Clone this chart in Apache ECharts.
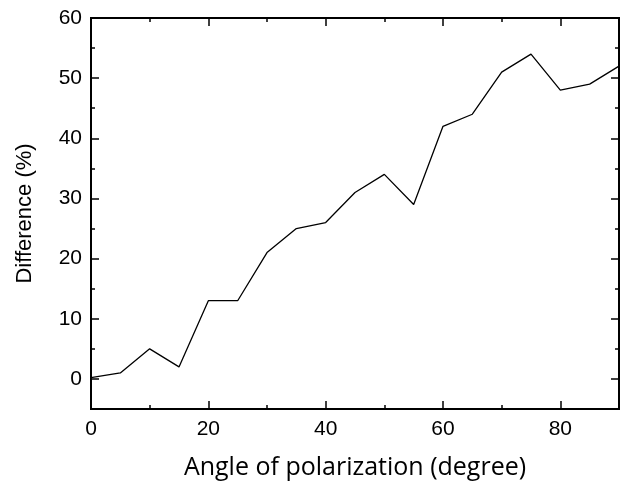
<!DOCTYPE html>
<html>
<head>
<meta charset="utf-8">
<script src="https://cdn.jsdelivr.net/npm/echarts@6/dist/echarts.min.js"></script>
<style>
  html, body { margin: 0; padding: 0; background: #fff; }
  #chart { width: 625px; height: 486px; }
</style>
</head>
<body>
<div id="chart"></div>
<script>
// angle of polarization (degree) vs difference (%)
var angles = [0, 5, 10, 15, 20, 25, 30, 35, 40, 45, 50, 55, 60, 65, 70, 75, 80, 85, 90];
var diffs = [0.2, 1, 5, 2, 13, 13, 21, 25, 26, 31, 34, 29, 42, 44, 51, 54, 48, 49, 52];

var xMajor = [0, 20, 40, 60, 80];
var xMinor = [10, 30, 50, 70, 90];
var yMajor = [0, 10, 20, 30, 40, 50, 60];
var yMinor = [-5, 5, 15, 25, 35, 45, 55];

var font = 'Liberation Sans, Arial, sans-serif';
var lineStyle = { color: '#000', width: 2 };

// one axis per tick set, so major and minor ticks can have different lengths
function xAx(pos, ticks, len, labels) {
  return {
    type: 'value', position: pos, min: 0, max: 90,
    axisLine: { show: true, onZero: false, lineStyle: lineStyle },
    axisTick: { show: true, inside: true, length: len, customValues: ticks, lineStyle: { color: '#000', width: 1.5 } },
    axisLabel: labels ? { show: true, customValues: ticks, color: '#000', fontSize: 21, fontFamily: font, margin: 10 } : { show: false },
    splitLine: { show: false },
    name: labels ? 'Angle of polarization (degree)' : '',
    nameLocation: 'middle', nameGap: 46,
    nameTextStyle: { color: '#000', fontSize: 25, fontFamily: 'Open Sans, sans-serif' }
  };
}
function yAx(pos, ticks, len, labels) {
  return {
    type: 'value', position: pos, min: -5, max: 60,
    axisLine: { show: true, onZero: false, lineStyle: lineStyle },
    axisTick: { show: true, inside: true, length: len, customValues: ticks, lineStyle: { color: '#000', width: 1.5 } },
    axisLabel: labels ? { show: true, customValues: ticks, color: '#000', fontSize: 21, fontFamily: font, margin: 9 } : { show: false },
    splitLine: { show: false },
    name: labels ? 'Difference (%)' : '',
    nameLocation: 'middle', nameGap: 55, nameRotate: 90,
    nameTextStyle: { color: '#000', fontSize: 22, fontFamily: font }
  };
}

var chart = echarts.init(document.getElementById('chart'));
chart.setOption({
  animation: false,
  backgroundColor: '#fff',
  grid: { left: 91, right: 6, top: 18, bottom: 77, outerBoundsMode: 'none' },
  xAxis: [
    xAx('bottom', xMajor, 8, true),
    xAx('bottom', xMinor, 4, false),
    xAx('top', xMajor, 8, false),
    xAx('top', xMinor, 4, false)
  ],
  yAxis: [
    yAx('left', yMajor, 8, true),
    yAx('left', yMinor, 4, false),
    yAx('right', yMajor, 8, false),
    yAx('right', yMinor, 4, false)
  ],
  series: [{
    type: 'line',
    xAxisIndex: 0,
    yAxisIndex: 0,
    data: angles.map(function (a, i) { return [a, diffs[i]]; }),
    showSymbol: false,
    lineStyle: { color: '#000', width: 1.3 }
  }]
});
</script>
</body>
</html>
